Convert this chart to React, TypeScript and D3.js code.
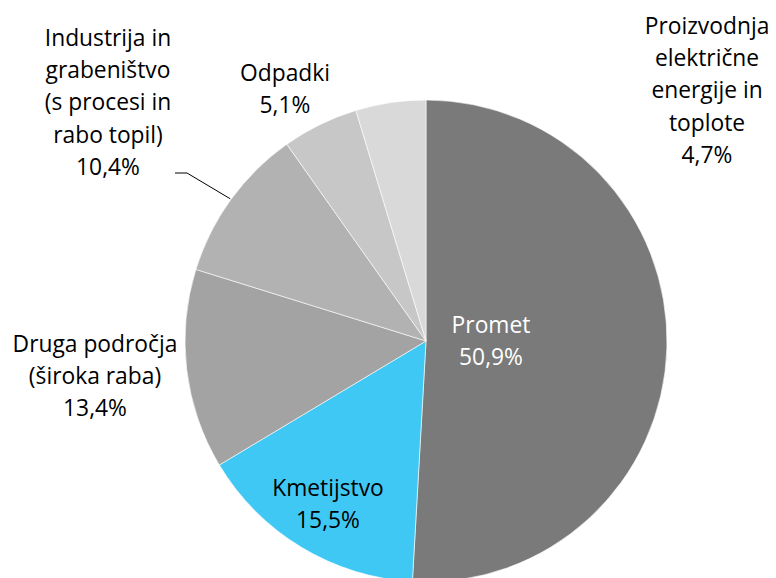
import React from "react";
import * as d3 from "d3";

const categories = [
  "Promet",
  "Kmetijstvo",
  "Druga področja (široka raba)",
  "Industrija in grabeništvo (s procesi in rabo topil)",
  "Odpadki",
  "Proizvodnja električne energije in toplote",
];
const values = [50.9, 15.5, 13.4, 10.4, 5.1, 4.7];
const valueLabels = ["50,9%", "15,5%", "13,4%", "10,4%", "5,1%", "4,7%"];
const labelLines = [
  ["Promet"],
  ["Kmetijstvo"],
  ["Druga področja", "(široka raba)"],
  ["Industrija in", "grabeništvo", "(s procesi in", "rabo topil)"],
  ["Odpadki"],
  ["Proizvodnja", "električne", "energije in", "toplote"],
];
const colors = ["#7a7a7a", "#40c8f4", "#a3a3a3", "#b2b2b2", "#c7c7c7", "#d9d9d9"];

// layout (label anchor: center x, first line center y)
const labelPos = [
  { x: 491, y: 325, fill: "#ffffff" },
  { x: 328, y: 488, fill: "#000000" },
  { x: 95, y: 344, fill: "#000000" },
  { x: 108, y: 38, fill: "#000000" },
  { x: 285, y: 73, fill: "#000000" },
  { x: 707, y: 26, fill: "#000000" },
];
const LINE_H = 32.2;

export default function App() {
  const W = 776;
  const H = 578;
  const cx = 426;
  const cy = 341;
  const R = 241;
  const data = categories.map((c, i) => ({ c, v: values[i], i }));
  const pie = d3
    .pie<any>()
    .sort(null)
    .value((d) => d.v)
    .startAngle(0)
    .endAngle(2 * Math.PI);
  const arcs = pie(data);
  const arc = d3.arc<any>().innerRadius(0).outerRadius(R);

  // leader line for Industrija
  const ind = arcs[3];
  const mid = (ind.startAngle + ind.endAngle) / 2;
  const edge = [cx + Math.sin(mid) * (R + 1), cy - Math.cos(mid) * (R + 1)];

  return (
    <svg
      width={W}
      height={H}
      style={{ position: "absolute", left: 0, top: 0, background: "#fff" }}
      fontFamily="'Open Sans', Lato, sans-serif"
      fontSize={22.8}
    >
      <g transform={`translate(${cx},${cy})`}>
        {arcs.map((a, i) => (
          <path key={i} d={arc(a) as string} fill={colors[i]} stroke="#ffffff" strokeWidth={0.6} />
        ))}
      </g>
      <polyline
        points={`175,173 187,173 ${edge[0]},${edge[1]}`}
        fill="none"
        stroke="#000"
        strokeWidth={1}
      />
      {labelLines.map((lines, i) => {
        const all = [...lines, valueLabels[i]];
        const p = labelPos[i];
        return (
          <text key={i} textAnchor="middle" fill={p.fill}>
            {all.map((t, j) => (
              <tspan key={j} x={p.x} y={p.y + j * LINE_H} dy="0.35em">
                {t}
              </tspan>
            ))}
          </text>
        );
      })}
    </svg>
  );
}
